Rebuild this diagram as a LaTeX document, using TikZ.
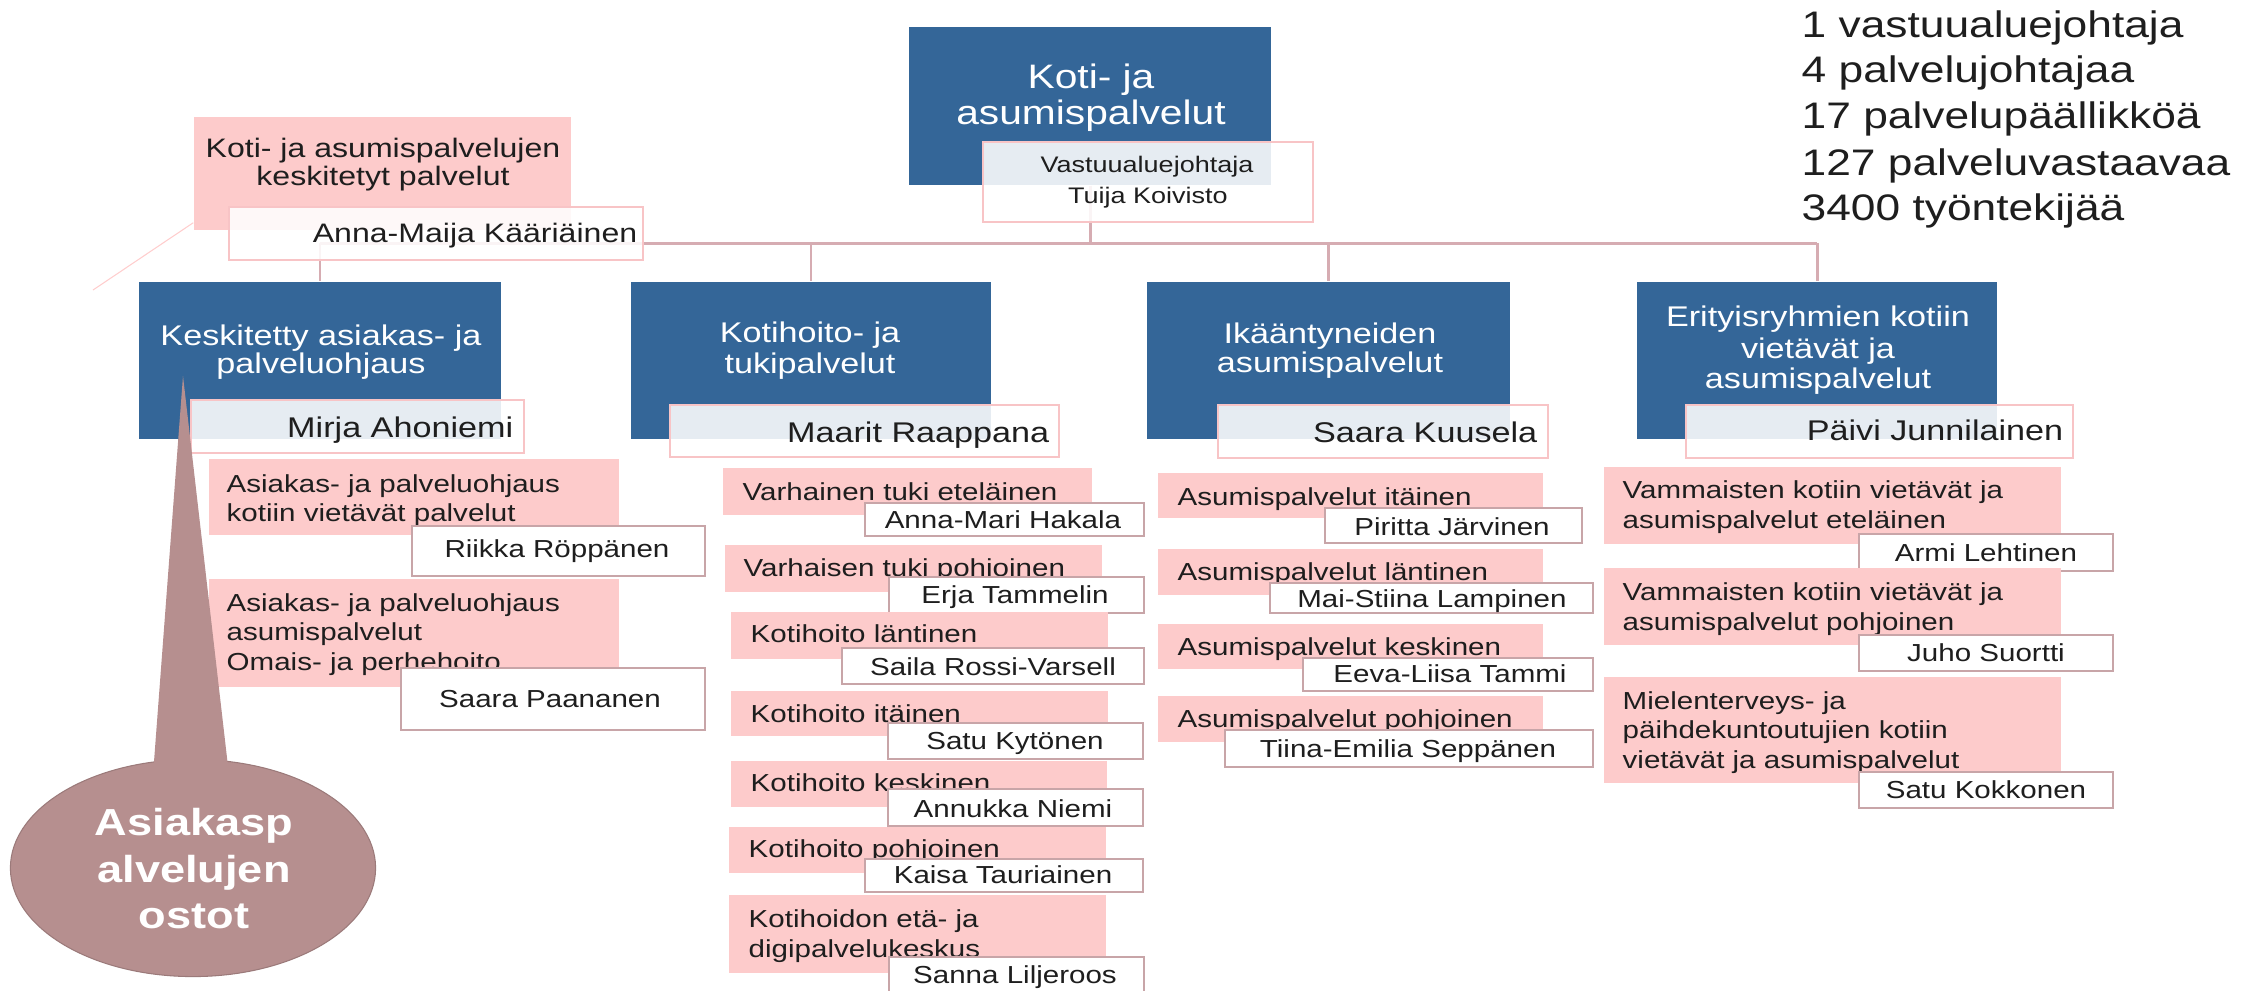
\documentclass[tikz,border=0pt]{standalone}
\usepackage{fontspec}
\setmainfont[FakeStretch=1.2]{Liberation Sans}
\usetikzlibrary{fit,shapes.geometric}
\definecolor{kblue}{RGB}{52,102,152}
\definecolor{kpink}{RGB}{253,203,203}
\definecolor{kline}{RGB}{214,172,178}
\definecolor{kedge}{RGB}{248,196,198}
\definecolor{kname}{RGB}{200,165,168}
\definecolor{kcall}{RGB}{182,143,143}
\definecolor{ktext}{RGB}{30,30,30}
\definecolor{kdiag}{RGB}{255,205,205}
\tikzset{
  bluebox/.style={fill=kblue, draw=none, inner sep=0pt},
  pinkbox/.style={fill=kpink, draw=none, inner sep=0pt},
  leadbox/.style={draw=kedge, line width=0.6pt, fill=white, fill opacity=0.88, inner sep=0pt},
  namebox/.style={draw=kname, line width=0.7pt, fill=white, inner sep=0pt},
  conn/.style={draw=kline, line width=0.85pt},
  txt/.style={inner sep=0pt, text=ktext},
  wtxt/.style={inner sep=0pt, text=white},
  ftop/.style={font=\fontsize{9.65pt}{10pt}\selectfont},
  flist/.style={font=\fontsize{10.5pt}{12pt}\selectfont},
  fhead/.style={font=\fontsize{8.1pt}{9pt}\selectfont},
  fka/.style={font=\fontsize{7.6pt}{9pt}\selectfont},
  fsmall/.style={font=\fontsize{7pt}{8pt}\selectfont},
  fvast/.style={font=\fontsize{6.4pt}{8pt}\selectfont},
  fcall/.style={font=\bfseries\fontsize{10.7pt}{12pt}\selectfont},
}
\begin{document}
\begin{tikzpicture}[x=0.01cm, y=-0.01cm]
\useasboundingbox (0,0) rectangle (2253,990);
\clip (0,0) rectangle (2253,990);

% ---------- boxes: top level ----------
\node[bluebox, fit={(909,27) (1271,185)}] (top) {};
\node[pinkbox, fit={(194,117) (571,230)}] (ka) {};

% ---------- level 2 blue boxes ----------
\node[bluebox, fit={(139,282) (501,439)}] (b1) {};
\node[bluebox, fit={(631,282) (991,439)}] (b2) {};
\node[bluebox, fit={(1147,282) (1510,439)}] (b3) {};
\node[bluebox, fit={(1637,282) (1997,439)}] (b4) {};

% ---------- connectors ----------
\coordinate (busL) at (320,243);
\coordinate (busR) at (1817,243);
\draw[conn] (top.south) -- (top.south |- busL);
\draw[conn] (busL) -- (busR);
\draw[conn] (b1.north |- busL) -- (b1.north);
\draw[conn] (b2.north |- busL) -- (b2.north);
\draw[conn] (b3.north |- busL) -- (b3.north);
\draw[conn] (b4.north |- busL) -- (b4.north);
\coordinate (diagEnd) at (93,290);
\draw[draw=kdiag, line width=0.3pt] (ka.south west) ++(0,-8) -- (diagEnd);

% ---------- leader boxes ----------
\node[leadbox, fit={(983,142) (1313,222)}] (tuija) {};
\node[leadbox, fit={(229,207) (643,260)}] (anna) {};
\node[leadbox, fit={(191,400) (524,453)}] (mirja) {};
\node[leadbox, fit={(670,405) (1059,457)}] (maarit) {};
\node[leadbox, fit={(1218,405) (1548,458)}] (saarak) {};
\node[leadbox, fit={(1686,405) (2073,458)}] (paivi) {};

% ---------- texts top ----------
\node[wtxt, ftop, anchor=base] (topt1) at (1091,88) {Koti- ja};
\node[wtxt, ftop, anchor=base] (topt2) at (1091,124) {asumispalvelut};
\node[txt, fvast, anchor=base] (tuijat1) at (1147,172) {Vastuualuejohtaja};
\node[txt, fvast, anchor=base] (tuijat2) at (1148,203) {Tuija Koivisto};
\node[txt, fka, anchor=base] (kat1) at (383,157) {Koti- ja asumispalvelujen};
\node[txt, fka, anchor=base] (kat2) at (383,185) {keskitetyt palvelut};
\node[txt, fka, anchor=base east] (annat) at (638,242) {Anna-Maija Kääriäinen};

% ---------- right list ----------
\node[txt, flist, anchor=base west] (l1) at (1801,37) {1 vastuualuejohtaja};
\node[txt, flist, anchor=base west] (l2) at (1801,82) {4 palvelujohtajaa};
\node[txt, flist, anchor=base west] (l3) at (1801,128) {17 palvelupäällikköä};
\node[txt, flist, anchor=base west] (l4) at (1801,175) {127 palveluvastaavaa};
\node[txt, flist, anchor=base west] (l5) at (1801,220) {3400 työntekijää};

% ---------- level 2 texts ----------
\node[wtxt, fhead, anchor=base] (b1t1) at (321,345) {Keskitetty asiakas- ja};
\node[wtxt, fhead, anchor=base] (b1t2) at (321,373) {palveluohjaus};
\node[txt, fhead, anchor=base east] (mirjat) at (514,437) {Mirja Ahoniemi};

\node[wtxt, fhead, anchor=base] (b2t1) at (810,342) {Kotihoito- ja};
\node[wtxt, fhead, anchor=base] (b2t2) at (810,373) {tukipalvelut};
\node[txt, fhead, anchor=base east] (maaritt) at (1050,442) {Maarit Raappana};

\node[wtxt, fhead, anchor=base] (b3t1) at (1330,343) {Ikääntyneiden};
\node[wtxt, fhead, anchor=base] (b3t2) at (1330,372) {asumispalvelut};
\node[txt, fhead, anchor=base east] (saarakt) at (1538,442) {Saara Kuusela};

\node[wtxt, fhead, anchor=base] (b4t1) at (1818,326) {Erityisryhmien kotiin};
\node[wtxt, fhead, anchor=base] (b4t2) at (1818,358) {vietävät ja};
\node[wtxt, fhead, anchor=base] (b4t3) at (1818,388) {asumispalvelut};
\node[txt, fhead, anchor=base east] (paivit) at (2064,440) {Päivi Junnilainen};

% ---------- column 1 ----------
\node[pinkbox, fit={(209,459) (619,535)}] (c1p1) {};
\node[txt, fsmall, anchor=base west] (c1p1a) at (226,492) {Asiakas- ja palveluohjaus};
\node[txt, fsmall, anchor=base west] (c1p1b) at (226,521) {kotiin vietävät palvelut};
\node[namebox, fit={(412,526) (705,576)}] (c1n1) {};
\node[txt, fsmall, anchor=base] (c1n1t) at (557,557) {Riikka Röppänen};
\node[pinkbox, fit={(209,579) (619,687)}] (c1p2) {};
\node[txt, fsmall, anchor=base west] (c1p2a) at (226,611) {Asiakas- ja palveluohjaus};
\node[txt, fsmall, anchor=base west] (c1p2b) at (226,640) {asumispalvelut};
\node[txt, fsmall, anchor=base west] (c1p2c) at (226,670) {Omais- ja perhehoito};
\node[namebox, fit={(401,668) (705,730)}] (c1n2) {};
\node[txt, fsmall, anchor=base] (c1n2t) at (550,707) {Saara Paananen};

% ---------- column 2 ----------
\node[pinkbox, fit={(723,468) (1092,515)}] (c2p1) {};
\node[txt, fsmall, anchor=base west] (c2p1t) at (742,500) {Varhainen tuki eteläinen};
\node[namebox, fit={(865,503) (1144,536)}] (c2n1) {};
\node[txt, fsmall, anchor=base] (c2n1t) at (1003,528) {Anna-Mari Hakala};

\node[pinkbox, fit={(725,545) (1102,592)}] (c2p2) {};
\node[txt, fsmall, anchor=base west] (c2p2t) at (743,576) {Varhaisen tuki pohjoinen};
\node[namebox, fit={(889,577) (1144,613)}] (c2n2) {};
\node[txt, fsmall, anchor=base] (c2n2t) at (1015,603) {Erja Tammelin};

\node[pinkbox, fit={(731,612) (1108,659)}] (c2p3) {};
\node[txt, fsmall, anchor=base west] (c2p3t) at (750,642) {Kotihoito läntinen};
\node[namebox, fit={(842,648) (1144,684)}] (c2n3) {};
\node[txt, fsmall, anchor=base] (c2n3t) at (993,675) {Saila Rossi-Varsell};

\node[pinkbox, fit={(731,691) (1108,736)}] (c2p4) {};
\node[txt, fsmall, anchor=base west] (c2p4t) at (750,722) {Kotihoito itäinen};
\node[namebox, fit={(888,723) (1143,759)}] (c2n4) {};
\node[txt, fsmall, anchor=base] (c2n4t) at (1015,749) {Satu Kytönen};

\node[pinkbox, fit={(731,761) (1107,807)}] (c2p5) {};
\node[txt, fsmall, anchor=base west] (c2p5t) at (750,791) {Kotihoito keskinen};
\node[namebox, fit={(888,789) (1143,826)}] (c2n5) {};
\node[txt, fsmall, anchor=base] (c2n5t) at (1013,817) {Annukka Niemi};

\node[pinkbox, fit={(729,827) (1106,873)}] (c2p6) {};
\node[txt, fsmall, anchor=base west] (c2p6t) at (748,857) {Kotihoito pohjoinen};
\node[namebox, fit={(865,859) (1143,892)}] (c2n6) {};
\node[txt, fsmall, anchor=base] (c2n6t) at (1003,883) {Kaisa Tauriainen};

\node[pinkbox, fit={(729,895) (1106,973)}] (c2p7) {};
\node[txt, fsmall, anchor=base west] (c2p7a) at (748,927) {Kotihoidon etä- ja};
\node[txt, fsmall, anchor=base west] (c2p7b) at (748,957) {digipalvelukeskus};
\node[namebox, fit={(889,957) (1144,1000)}] (c2n7) {};
\node[txt, fsmall, anchor=base] (c2n7t) at (1015,983) {Sanna Liljeroos};

% ---------- column 3 ----------
\node[pinkbox, fit={(1158,473) (1543,518)}] (c3p1) {};
\node[txt, fsmall, anchor=base west] (c3p1t) at (1177,505) {Asumispalvelut itäinen};
\node[namebox, fit={(1325,508) (1582,543)}] (c3n1) {};
\node[txt, fsmall, anchor=base] (c3n1t) at (1452,535) {Piritta Järvinen};

\node[pinkbox, fit={(1158,549) (1543,595)}] (c3p2) {};
\node[txt, fsmall, anchor=base west] (c3p2t) at (1177,580) {Asumispalvelut läntinen};
\node[namebox, fit={(1270,583) (1593,613)}] (c3n2) {};
\node[txt, fsmall, anchor=base] (c3n2t) at (1432,607) {Mai-Stiina Lampinen};

\node[pinkbox, fit={(1158,624) (1543,669)}] (c3p3) {};
\node[txt, fsmall, anchor=base west] (c3p3t) at (1177,655) {Asumispalvelut keskinen};
\node[namebox, fit={(1303,658) (1593,691)}] (c3n3) {};
\node[txt, fsmall, anchor=base] (c3n3t) at (1450,682) {Eeva-Liisa Tammi};

\node[pinkbox, fit={(1158,696) (1543,742)}] (c3p4) {};
\node[txt, fsmall, anchor=base west] (c3p4t) at (1177,727) {Asumispalvelut pohjoinen};
\node[namebox, fit={(1225,730) (1593,767)}] (c3n4) {};
\node[txt, fsmall, anchor=base] (c3n4t) at (1408,757) {Tiina-Emilia Seppänen};

% ---------- column 4 ----------
\node[pinkbox, fit={(1604,467) (2061,544)}] (c4p1) {};
\node[txt, fsmall, anchor=base west] (c4p1a) at (1622,498) {Vammaisten kotiin vietävät ja};
\node[txt, fsmall, anchor=base west] (c4p1b) at (1622,528) {asumispalvelut eteläinen};
\node[namebox, fit={(1859,534) (2113,571)}] (c4n1) {};
\node[txt, fsmall, anchor=base] (c4n1t) at (1986,561) {Armi Lehtinen};

\node[pinkbox, fit={(1604,568) (2061,645)}] (c4p2) {};
\node[txt, fsmall, anchor=base west] (c4p2a) at (1622,600) {Vammaisten kotiin vietävät ja};
\node[txt, fsmall, anchor=base west] (c4p2b) at (1622,630) {asumispalvelut pohjoinen};
\node[namebox, fit={(1859,635) (2113,671)}] (c4n2) {};
\node[txt, fsmall, anchor=base] (c4n2t) at (1986,661) {Juho Suortti};

\node[pinkbox, fit={(1604,677) (2061,783)}] (c4p3) {};
\node[txt, fsmall, anchor=base west] (c4p3a) at (1622,709) {Mielenterveys- ja};
\node[txt, fsmall, anchor=base west] (c4p3b) at (1622,738) {päihdekuntoutujien kotiin};
\node[txt, fsmall, anchor=base west] (c4p3c) at (1622,768) {vietävät ja asumispalvelut};
\node[namebox, fit={(1859,772) (2113,808)}] (c4n3) {};
\node[txt, fsmall, anchor=base] (c4n3t) at (1986,798) {Satu Kokkonen};

% ---------- callout ----------
\node[ellipse, fill=kcall, draw=kcall!85!black, line width=0.3pt, minimum width=3.65cm, minimum height=2.17cm, inner sep=0pt] (call) at (193,868) {};
\coordinate (tip) at (183,376);
\fill[kcall] (tip) -- (153,775) -- (229,775) -- cycle;
\node[wtxt, fcall, anchor=base] (callt1) at (194,835) {Asiakasp};
\node[wtxt, fcall, anchor=base] (callt2) at (194,882) {alvelujen};
\node[wtxt, fcall, anchor=base] (callt3) at (194,928) {ostot};
\end{tikzpicture}
\end{document}
